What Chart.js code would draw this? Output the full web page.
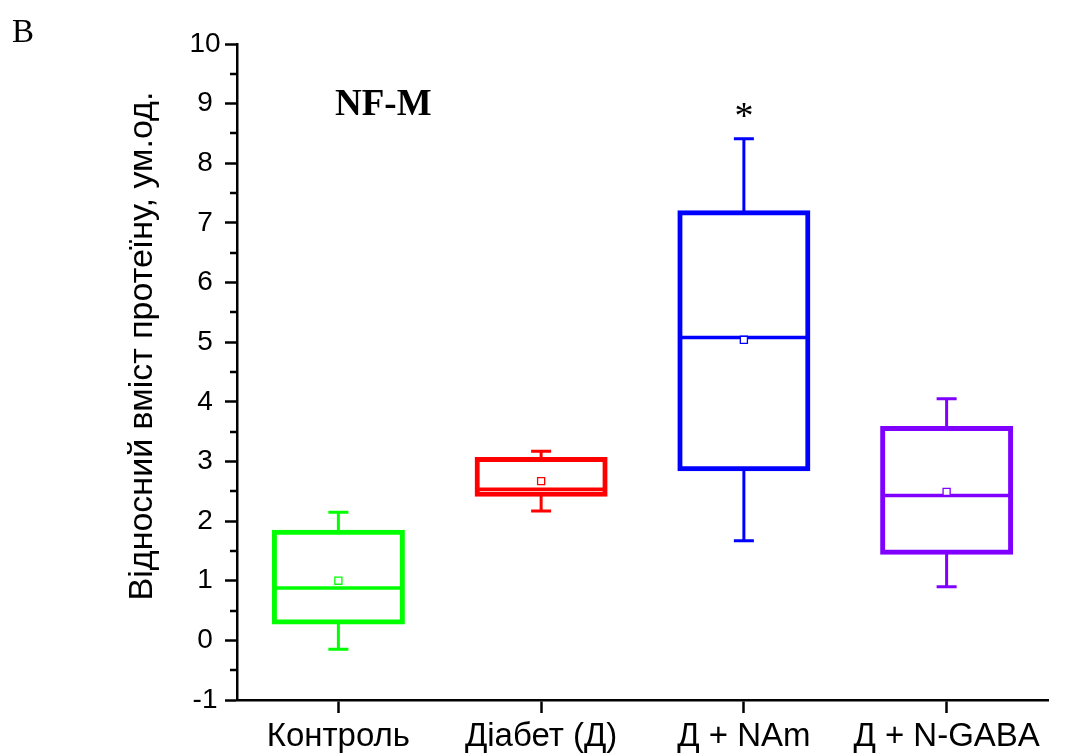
<!DOCTYPE html>
<html>
<head>
<meta charset="utf-8">
<script src="https://cdn.jsdelivr.net/npm/chart.js@4.4.1/dist/chart.umd.min.js"></script>
<style>
  html, body { margin: 0; padding: 0; background: #ffffff; }
  #wrap { width: 1078px; height: 756px; position: relative; }
</style>
</head>
<body>
<div id="wrap"><canvas id="c" width="1078" height="756"></canvas></div>
<script>
// ---- data ----
const categories = ['Контроль', 'Діабет (Д)', 'Д + NAm', 'Д + N-GABA'];
const whiskerMin = [-0.15, 2.17, 1.67, 0.90];
const q1         = [0.30, 2.44, 2.87, 1.47];
const median     = [0.88, 2.535, 5.08, 2.43];
const q3         = [1.82, 3.04, 7.18, 3.56];
const whiskerMax = [2.15, 3.17, 8.41, 4.05];
const means      = [1.00, 2.67, 5.04, 2.49];
const colors     = ['#00ff00', '#ff0000', '#0000ff', '#8000ff'];
const yTicksMajor = [-1, 0, 1, 2, 3, 4, 5, 6, 7, 8, 9, 10];
const yTitle = 'Відносний вміст протеїну, ум.од.';
const panelLabel = 'B';
const proteinLabel = 'NF-M';
const significance = ['', '', '*', ''];

const SANS = '"Liberation Sans", Arial, sans-serif';
const SERIF = '"Liberation Serif", "Times New Roman", serif';

const extras = {
  id: 'boxExtras',
  beforeDatasetsDraw(chart) {
    const { ctx, scales: { x, y } } = chart;
    const bars = chart.getDatasetMeta(1).data;
    ctx.save();
    categories.forEach((c, i) => {
      const cx = x.getPixelForValue(i);
      const half = bars[i].width / 2;
      ctx.strokeStyle = colors[i];
      ctx.lineCap = 'butt';
      // whiskers
      ctx.lineWidth = 3;
      const yMax = y.getPixelForValue(whiskerMax[i]);
      const yMin = y.getPixelForValue(whiskerMin[i]);
      ctx.beginPath();
      ctx.moveTo(cx, y.getPixelForValue(q3[i])); ctx.lineTo(cx, yMax);
      ctx.moveTo(cx, y.getPixelForValue(q1[i])); ctx.lineTo(cx, yMin);
      ctx.moveTo(cx - 10, yMax); ctx.lineTo(cx + 10, yMax);
      ctx.moveTo(cx - 10, yMin); ctx.lineTo(cx + 10, yMin);
      ctx.stroke();
      // median
      ctx.lineWidth = 3.5;
      const ym = y.getPixelForValue(median[i]);
      ctx.beginPath();
      ctx.moveTo(cx - half + 2, ym); ctx.lineTo(cx + half - 2, ym);
      ctx.stroke();
    });
    ctx.restore();
  },
  afterDraw(chart) {
    const { ctx, chartArea, scales: { x, y } } = chart;
    ctx.save();
    // minor ticks on y
    ctx.strokeStyle = '#000';
    ctx.lineWidth = 2.5;
    ctx.beginPath();
    for (let k = 0; k < yTicksMajor.length - 1; k++) {
      const v = (yTicksMajor[k] + yTicksMajor[k + 1]) / 2;
      const py = Math.round(y.getPixelForValue(v));
      ctx.moveTo(chartArea.left - 7, py); ctx.lineTo(chartArea.left, py);
    }
    ctx.stroke();
    // y title
    ctx.fillStyle = '#000';
    ctx.save();
    ctx.translate(152, 346);
    ctx.rotate(-Math.PI / 2);
    ctx.font = '34px ' + SANS;
    ctx.textAlign = 'center';
    ctx.textBaseline = 'alphabetic';
    ctx.fillText(yTitle, 0, 0);
    ctx.restore();
    // panel label
    ctx.font = '33px ' + SERIF;
    ctx.textAlign = 'left';
    ctx.textBaseline = 'alphabetic';
    ctx.fillText(panelLabel, 12, 42);
    // protein label
    ctx.font = 'bold 37px ' + SERIF;
    ctx.fillText(proteinLabel, 335, 115);
    // significance
    ctx.font = '38px ' + SERIF;
    ctx.textAlign = 'center';
    significance.forEach((s, i) => {
      if (!s) return;
      ctx.fillText(s, x.getPixelForValue(i), y.getPixelForValue(whiskerMax[i]) - 11);
    });
    ctx.restore();
  }
};

new Chart(document.getElementById('c'), {
  type: 'bar',
  data: {
    labels: categories,
    datasets: [
      {
        type: 'line',
        label: 'Mean',
        data: means,
        showLine: false,
        pointStyle: 'rect',
        pointRadius: 5,
        pointBorderWidth: 1.3,
        pointBorderColor: colors,
        pointBackgroundColor: '#ffffff',
        order: 0
      },
      {
        type: 'bar',
        label: 'Box',
        data: categories.map((c, i) => [q1[i], q3[i]]),
        backgroundColor: 'rgba(0,0,0,0)',
        borderColor: colors,
        borderWidth: 1,
        inflateAmount: 2,
        borderSkipped: false,
        barThickness: 129,
        grouped: false,
        order: 1
      }
    ]
  },
  options: {
    responsive: false,
    animation: false,
    devicePixelRatio: 1,
    layout: { padding: { left: 0, top: 44, right: 30, bottom: 0 } },
    plugins: { legend: { display: false }, tooltip: { enabled: false } },
    scales: {
      x: {
        type: 'category',
        offset: true,
        grid: { display: true, drawOnChartArea: false, offset: false, tickLength: 13, tickWidth: 2.5, tickColor: '#000' },
        border: { display: true, color: '#000', width: 2.5 },
        ticks: { color: '#000', font: { family: SANS, size: 33 }, padding: 4, maxRotation: 0, autoSkip: false },
        afterFit(scale) { scale.height = 56; }
      },
      y: {
        type: 'linear',
        min: -1,
        max: 10,
        grid: {
          display: true, drawOnChartArea: false, tickLength: 12, tickWidth: 2.5,
          tickColor: '#000'
        },
        border: { display: true, color: '#000', width: 2.5 },
        afterBuildTicks(scale) { scale.ticks = yTicksMajor.map(v => ({ value: v })); },
        ticks: {
          color: '#000', font: { family: SANS, size: 28 }, padding: 4.4,
          crossAlign: 'center', autoSkip: false,
          callback: v => String(v)
        },
        afterFit(scale) { scale.width = 237; }
      }
    }
  },
  plugins: [extras]
});
</script>
</body>
</html>
